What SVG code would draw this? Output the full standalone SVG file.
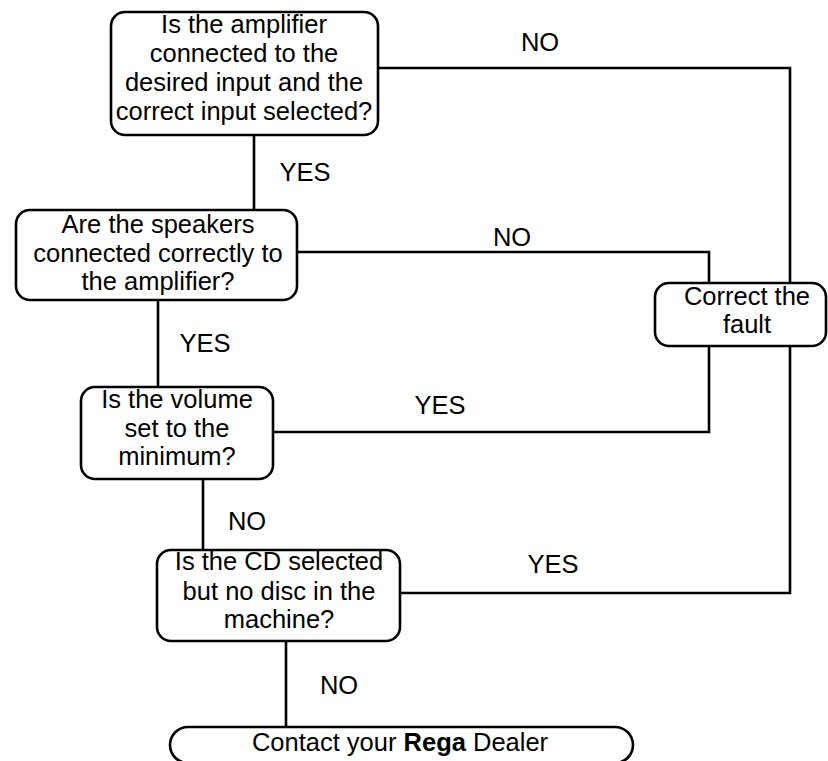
<svg xmlns="http://www.w3.org/2000/svg" width="828" height="761" viewBox="0 0 828 761">
<style>
.box{fill:#fff;stroke:#000;stroke-width:2.6}
.t{font-family:"Liberation Sans",Arial,sans-serif;font-size:25.5px;fill:#000;text-anchor:middle}
.c{fill:none;stroke:#000;stroke-width:2.6;stroke-linecap:square}
</style>
<rect width="828" height="761" fill="#fff"/>
<g id="connectors">
<path class="c" d="M254,135V210"/>
<path class="c" d="M378,68H790V283"/>
<path class="c" d="M297,252H709V283"/>
<path class="c" d="M158,300V387"/>
<path class="c" d="M709,346V432H273"/>
<path class="c" d="M203,479V550"/>
<path class="c" d="M790,346V593H400"/>
<path class="c" d="M286,641V727"/>
</g>
<g id="labels">
<text class="t" x="540" y="51">NO</text>
<text class="t" x="305" y="181">YES</text>
<text class="t" x="512" y="246">NO</text>
<text class="t" x="205" y="352">YES</text>
<text class="t" x="440" y="414">YES</text>
<text class="t" x="247" y="530">NO</text>
<text class="t" x="553" y="573">YES</text>
<text class="t" x="339" y="694">NO</text>
</g>
<g id="q1">
<rect class="box" x="111" y="12" width="267" height="123" rx="14"/>
<text class="t" x="244" y="33">Is the amplifier</text>
<text class="t" x="244" y="62">connected to the</text>
<text class="t" x="244" y="91">desired input and the</text>
<text class="t" x="244" y="120">correct input selected?</text>
</g>
<g id="q2">
<rect class="box" x="16" y="210" width="281" height="90" rx="14"/>
<text class="t" x="158" y="233">Are the speakers</text>
<text class="t" x="158" y="262">connected correctly to</text>
<text class="t" x="158" y="290">the amplifier?</text>
</g>
<g id="fault">
<rect class="box" x="655" y="283" width="171" height="63" rx="14"/>
<text class="t" x="747" y="305">Correct the</text>
<text class="t" x="747" y="333">fault</text>
</g>
<g id="q3">
<rect class="box" x="81" y="387" width="192" height="92" rx="14"/>
<text class="t" x="177" y="408">Is the volume</text>
<text class="t" x="177" y="437">set to the</text>
<text class="t" x="177" y="465">minimum?</text>
</g>
<g id="q4">
<rect class="box" x="157" y="550" width="243" height="91" rx="14"/>
<text class="t" x="279" y="570">Is the CD selected</text>
<text class="t" x="279" y="600">but no disc in the</text>
<text class="t" x="279" y="628">machine?</text>
</g>
<g id="dealer">
<rect class="box" x="170" y="727" width="463" height="36" rx="18"/>
<text class="t" x="400" y="751">Contact your <tspan font-weight="bold">Rega</tspan> Dealer</text>
</g>
</svg>
